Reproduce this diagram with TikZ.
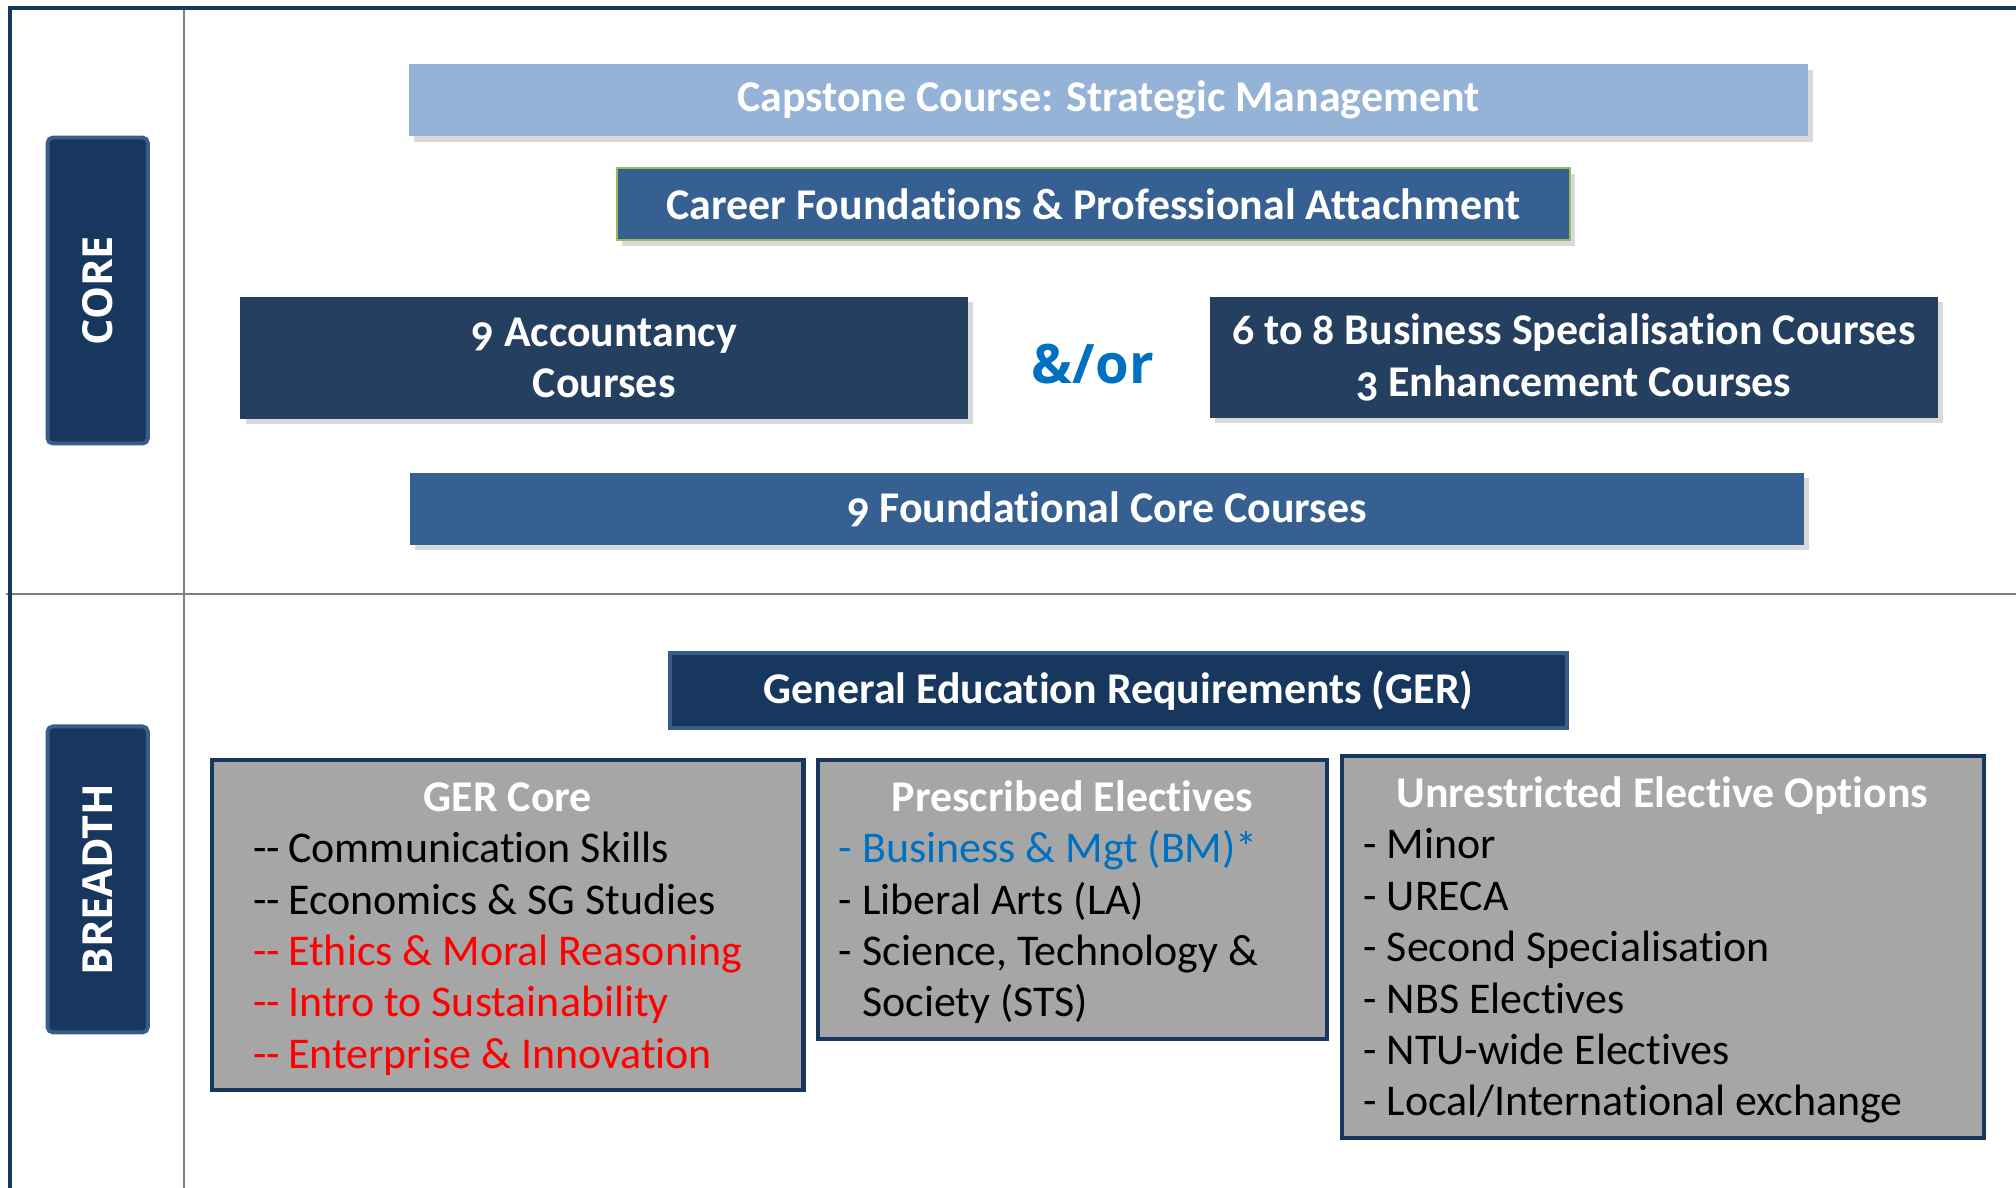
\documentclass[tikz,border=0pt]{standalone}
\usepackage{fontspec}
\setmainfont{Carlito}[Ligatures=NoCommon, Numbers=OldStyle]
\newfontfamily\sidefont{Open Sans}
\usepackage{xcolor}
\usetikzlibrary{fit,shadows}

\definecolor{navy}{HTML}{17375E}
\definecolor{navyedge}{HTML}{385D8A}
\definecolor{deepblue}{HTML}{243F60}
\definecolor{midblue}{HTML}{366092}
\definecolor{paleblue}{HTML}{95B3D7}
\definecolor{leafgreen}{HTML}{9BBB59}
\definecolor{boxgray}{HTML}{A6A6A6}
\definecolor{rulegray}{HTML}{808080}
\definecolor{linkblue}{HTML}{0070C0}

\newcommand{\dd}{-\kern-0.3pt-\kern-0.4pt}

\tikzset{
  bar/.style={inner sep=0pt,
    drop shadow={shadow xshift=1.5pt, shadow yshift=-1.5pt, opacity=0.3}},
  bartxt/.style={inner sep=0pt, text=white, align=center,
    font=\fontsize{12.5}{14.6}\selectfont\bfseries},
  sidebox/.style={fill=navy, draw=navyedge, line width=1.1pt, inner sep=0pt, rounded corners=1.5pt},
  sidetxt/.style={rotate=90, text=white, font=\sidefont\bfseries\fontsize{11.8}{13}\selectfont},
  listbox/.style={fill=boxgray, draw=navy, line width=1.2pt, inner sep=0pt},
  listhead/.style={anchor=base, text=white, font=\fontsize{12.5}{14.6}\selectfont\bfseries},
  item/.style={anchor=base west, inner sep=0pt, font=\fontsize{12.5}{14.6}\selectfont}
}

\begin{document}
\begin{tikzpicture}[x=0.012857cm, y=-0.012857cm]
	\useasboundingbox (0,0) rectangle (1568,924);
	
	% frame and section rules
	\draw[rulegray, line width=0.6pt] (143,6) -- (143,924);
	\draw[rulegray, line width=0.6pt] (5,462) -- (1568,462);
	\draw[navy, line width=1.2pt] (8,924) -- (8,6) -- (1568,6);
	
	% side labels
	\node[sidebox, fit={(37,107) (115,345)}] (core) {};
	\node[sidetxt] (core-t) at (core.center) {CORE};
	\node[sidebox, fit={(37,565) (115,803)}] (breadth) {};
	\node[sidetxt] (breadth-t) at (breadth.center) {BREADTH};
	
	% core courses
	\node[bar, fill=paleblue, fit={(318,50) (1406,106)}] (cap) {};
	\node[bartxt] (cap-t) at (cap.center) {Capstone Course: Strategic Management};
	\node[bar, fill=midblue, draw=leafgreen, line width=0.6pt, fit={(480,131) (1221,187)}] (career) {};
	\node[bartxt] (career-t) at (career.center) {Career Foundations \& Professional Attachment};
	\node[bar, fill=deepblue, fit={(187,231) (753,326)}] (acct) {};
	\node[bartxt] (acct-t) at (acct.center) {9 Accountancy\\Courses};
	\node[bar, fill=deepblue, fit={(941,231) (1507,325)}] (spec) {};
	\node[bartxt] (spec-t) at (spec.center) {6 to 8 Business Specialisation Courses\\3 Enhancement Courses};
	\node[text=linkblue, font=\sidefont\bfseries\fontsize{15.5}{18}\selectfont] (andor) at (850,283) {\&/or};
	\node[bar, fill=midblue, fit={(319,368) (1403,424)}] (found) {};
	\node[bartxt] (found-t) at (found.center) {9 Foundational Core Courses};
	
	% breadth
	\node[sidebox, rounded corners=0pt, fit={(521,508) (1219,566)}] (ger) {};
	\node[bartxt] (ger-t) at (ger.center) {General Education Requirements (GER)};
	
	\node[listbox, fit={(165,591) (625,848)}] (gc) {};
	\node[listbox, fit={(636,591) (1032,808)}] (pe) {};
	\node[listbox, fit={(1044,588) (1543,885)}] (ue) {};
	
	\node[listhead] (gc-h) at (395,631) {GER Core};
	\node[listhead] (pe-h) at (834,631) {Prescribed Electives};
	\node[listhead] (ue-h) at (1293,628) {Unrestricted Elective Options};
	
	\foreach \t [count=\i] in {\dd{} Communication Skills, \dd{} Economics \& SG Studies,
		{\color{red}\dd{} Ethics \& Moral Reasoning}, {\color{red}\dd{} Intro to Sustainability},
		{\color{red}\dd{} Enterprise \& Innovation}}
		\node[item] (gc-\i) at (197,631+40*\i) {\t};
	
	\foreach \t [count=\i] in {{\color{linkblue}- Business \& Mgt (BM)*}, - Liberal Arts (LA),
		{- Science, Technology \&}, {\phantom{- }Society (STS)}}
		\node[item] (pe-\i) at (652,631+40*\i) {\t};
	
	\foreach \t [count=\i] in {- Minor, - URECA, - Second Specialisation, - NBS Electives,
		- NTU-wide Electives, - Local/International exchange}
		\node[item] (ue-\i) at (1060,628+40*\i) {\t};
\end{tikzpicture}
\end{document}
